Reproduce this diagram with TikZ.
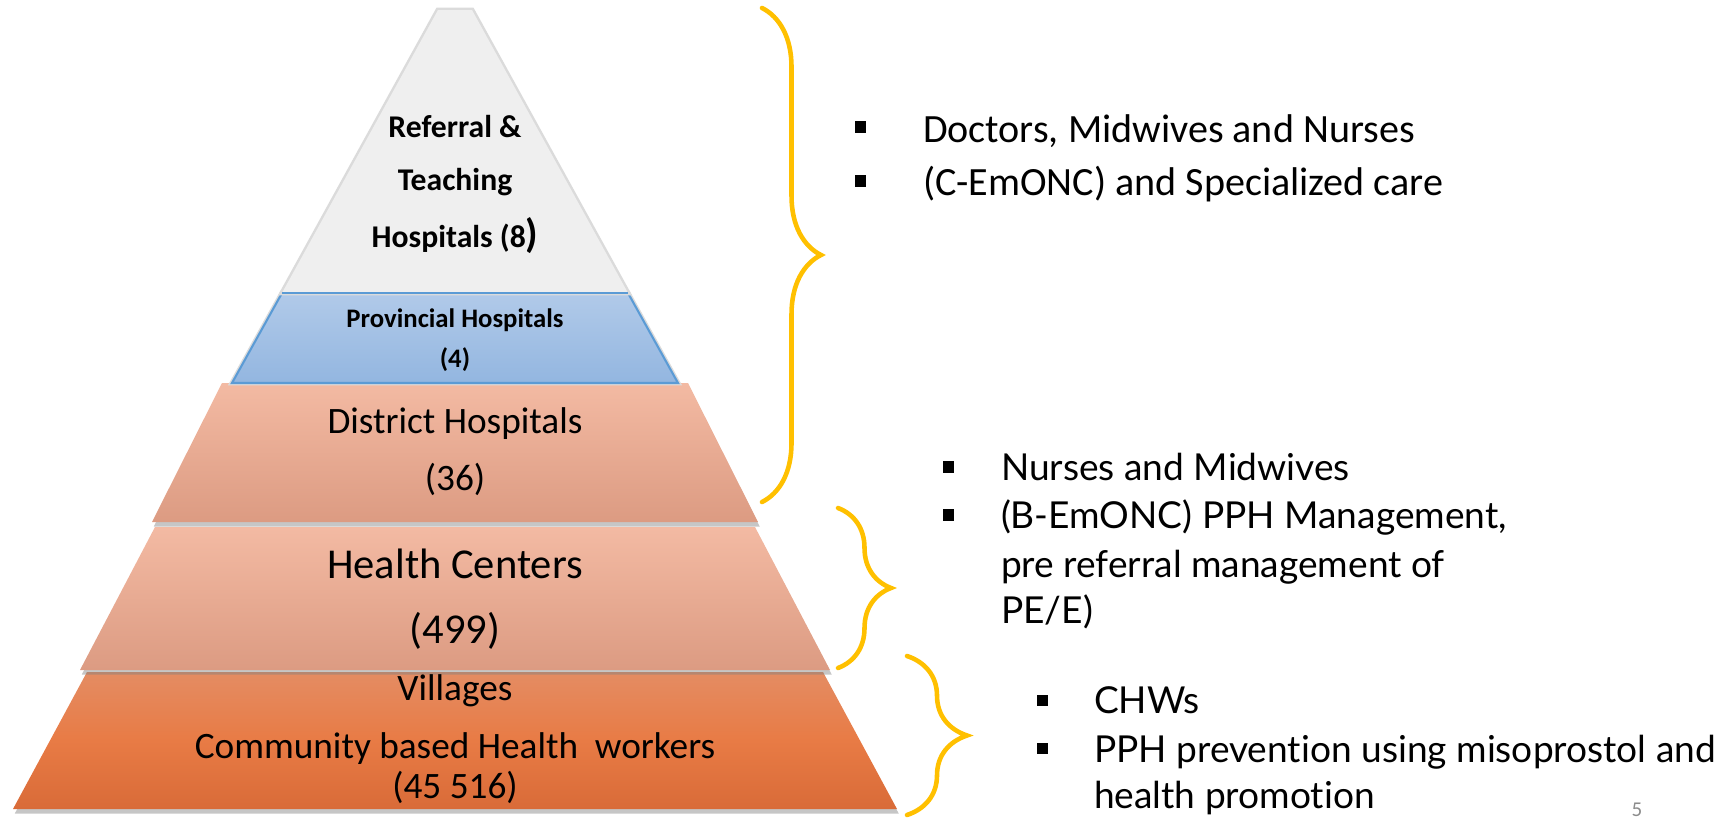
\documentclass[tikz,border=0pt]{standalone}
\usepackage{fontspec}
\setmainfont{Carlito}
\newfontfamily\gillfont[Ligatures={NoCommon}]{Lato}
\usetikzlibrary{shadows, decorations.pathreplacing}
\definecolor{cgold}{HTML}{FFC000}
\definecolor{cgrey}{HTML}{EFEFEF}
\definecolor{cblueA}{HTML}{B1CAE9}
\definecolor{cblueB}{HTML}{93B6E0}
\definecolor{cblueline}{HTML}{5B9BD5}
\definecolor{csalA}{HTML}{F3BAA3}
\definecolor{csalB}{HTML}{DC9B82}
\definecolor{corA}{HTML}{E48C63}
\definecolor{corM}{HTML}{E87B45}
\definecolor{corB}{HTML}{D96B38}
\definecolor{cpage}{HTML}{8C8C8C}
\tikzset{
  every picture/.style={line width=0.6pt},
  tier/.style={drop shadow={opacity=0.45, shadow xshift=0.5pt, shadow yshift=-1.3pt}},
  glow/.style={preaction={draw=black!14, line width=1.4pt}},
  curly/.style={draw=cgold, line width=1.3pt, line cap=round, decorate, decoration={brace, amplitude=#1}},
  lbl/.style={anchor=base, inner sep=0pt},
  item/.style={anchor=base west, inner sep=0pt},
  sq/.style={fill=black, minimum size=0.11cm, inner sep=0pt},
}

\begin{document}
\begin{tikzpicture}[x=0.01cm, y=-0.01cm]
  \useasboundingbox (0,0) rectangle (1729,818);

  % tiers, from the base up so each shadow falls on the one below
  \path[tier, top color=corA, bottom color=corB, middle color=corM] (87,672) -- (823,672) -- (897,809) -- (13,809) -- cycle;
  \path[tier, top color=csalA, bottom color=csalB] (155,527) -- (755,527) -- (830,670) -- (80,670) -- cycle;
  \path[tier, top color=csalA, bottom color=csalB] (222,383) -- (688,383) -- (758,522) -- (152,522) -- cycle;
  \path[glow, top color=cblueA, bottom color=cblueB, draw=cblueline] (282,293) -- (628,293) -- (678,383) -- (232,383) -- cycle;
  \path[glow, fill=cgrey] (438,10) -- (472,10) -- (628,293) -- (282,293) -- cycle;
  \draw[cblueline] (282,293) -- (628,293);

  % tier labels
  \begin{scope}[font=\fontsize{9}{11}\selectfont\bfseries]
    \node[lbl] (ref1) at (455,137) {Referral \&};
    \node[lbl] (ref2) at (455,190) {Teaching};
    \node[lbl] (ref3) at (455,247) {Hospitals (8{\fontsize{11.5}{12}\selectfont )}};
  \end{scope}
  \node[lbl, font=\fontsize{7.6}{9}\selectfont\bfseries] (prov1) at (455,327) {Provincial Hospitals};
  \node[lbl, font=\fontsize{7.6}{9}\selectfont\bfseries] (prov2) at (455,367) {(4)};
  \node[lbl, font=\fontsize{10.6}{12}\selectfont] (dist1) at (455,433) {District Hospitals};
  \node[lbl, font=\fontsize{10.6}{12}\selectfont] (dist2) at (455,490) {(36)};
  \node[lbl, font=\fontsize{12.1}{14}\selectfont] (hc1) at (455,578) {Health Centers};
  \node[lbl, font=\fontsize{12.1}{14}\selectfont] (hc2) at (455,643) {(499)};
  \begin{scope}[font=\fontsize{10.6}{12}\selectfont]
    \node[lbl] (vil1) at (455,700) {Villages};
    \node[lbl] (vil2) at (455,758) {Community based Health\ \ workers};
    \node[lbl] (vil3) at (455,798) {(45 516)};
  \end{scope}

  % braces
  \coordinate (bigtop) at (762,8);
  \coordinate (bigbot) at (762,502);
  \coordinate (midtop) at (838,508);
  \coordinate (midbot) at (838,668);
  \coordinate (lowtop) at (907,656);
  \coordinate (lowbot) at (907,815);
  \draw[curly=0.59cm] (bigtop) -- (bigbot);
  \draw[curly=0.53cm] (midtop) -- (midbot);
  \draw[curly=0.60cm] (lowtop) -- (lowbot);

  % staff and services per level
  \begin{scope}[font=\fontsize{11.4}{13}\selectfont]
    \node[item] (doc1) at (922,142) {Doctors, Midwives and Nurses};
    \node[item] (doc2) at (922,195) {(C-EmONC) and Specialized care};
  \end{scope}
  \node[sq] (bdoc1) at (860,127) {};
  \node[sq] (bdoc2) at (860,181) {};

  \begin{scope}[font=\fontsize{10.55}{12}\selectfont\gillfont]
    \node[item] (nur1) at (1000,480) {Nurses and Midwives};
    \node[item] (nur2) at (1000,528) {(B-EmONC) PPH Management,};
    \node[item] (nur3) at (1000,577) {pre referral management of};
    \node[item] (nur4) at (1000,623) {PE/E)};
    \node[item] (chw1) at (1093,713) {CHWs};
    \node[item] (chw2) at (1093,762) {PPH prevention using misoprostol and};
    \node[item] (chw3) at (1093,808) {health promotion};
  \end{scope}
  \node[sq] (bnur1) at (948,467) {};
  \node[sq] (bnur2) at (948,515) {};
  \node[sq] (bchw1) at (1042,700) {};
  \node[sq] (bchw2) at (1042,748) {};

  \node[lbl, font=\fontsize{6}{7}\selectfont, text=cpage] (page) at (1637,816) {5};
\end{tikzpicture}
\end{document}
